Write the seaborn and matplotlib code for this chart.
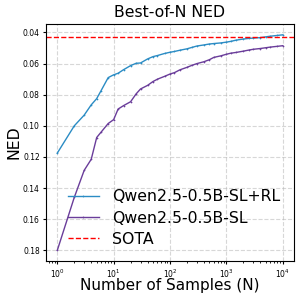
import pandas as pd
import seaborn as sns
import matplotlib.pyplot as plt

# Number of samples (N)
n_samples = [1, 2, 3, 4, 5, 6, 8, 10, 12, 15, 20, 25, 30, 40, 50, 60, 80, 100,
             120, 150, 200, 250, 300, 400, 500, 600, 800, 1000, 1200, 1500,
             2000, 2500, 3000, 4000, 5000, 6000, 8000, 10000]

# Best-of-N NED per model
ned_sl_rl = [0.1175, 0.100, 0.0931, 0.0865, 0.0825, 0.0773, 0.069, 0.0672,
             0.0662, 0.0639, 0.0613, 0.0598, 0.0596, 0.0570, 0.0555, 0.0548,
             0.0535, 0.0527, 0.0522, 0.0514, 0.0505, 0.0495, 0.0487, 0.0480,
             0.0474, 0.0471, 0.0467, 0.0462, 0.0457, 0.0449, 0.0442, 0.0438,
             0.0436, 0.0433, 0.0428, 0.0424, 0.0419, 0.0415]
ned_sl = [0.180, 0.146, 0.1286, 0.1215, 0.1075, 0.104, 0.0985, 0.0960,
          0.0892, 0.0870, 0.0845, 0.0795, 0.0763, 0.0740, 0.0715, 0.0700,
          0.0682, 0.0667, 0.0658, 0.0640, 0.0624, 0.0610, 0.0600, 0.0588,
          0.0575, 0.0560, 0.0550, 0.0540, 0.0533, 0.0528, 0.0520, 0.0513,
          0.0508, 0.0503, 0.0498, 0.0494, 0.0489, 0.0485]
sota = 0.0426

models = ["Qwen2.5-0.5B-SL+RL", "Qwen2.5-0.5B-SL"]
colors = ["#2b8cc4", "#6a3d9a"]

df = pd.DataFrame({
    "N": n_samples * 2,
    "NED": ned_sl_rl + ned_sl,
    "model": [models[0]] * len(n_samples) + [models[1]] * len(n_samples),
})

fig, ax = plt.subplots(figsize=(2.99, 2.97), dpi=100)
sns.lineplot(data=df, x="N", y="NED", hue="model", palette=colors,
             marker=".", markersize=2.5, markeredgewidth=0, linewidth=1.0, ax=ax)
ax.axhline(sota, color="red", linestyle="--", linewidth=1.0, label="SOTA")

ax.set_xscale("log")
ax.invert_yaxis()
ax.grid(True, linestyle="--", alpha=0.5)
ax.tick_params(labelsize=5.5, length=2.5, pad=2)
ax.tick_params(which="minor", length=1.5)
ax.set_title("Best-of-N NED", fontsize=11.3, pad=5)
ax.set_xlabel("Number of Samples (N)", fontsize=11, labelpad=-1)
ax.set_ylabel("NED", fontsize=11.3, labelpad=1)
ax.legend(fontsize=11.3, frameon=False, loc="lower right",
          bbox_to_anchor=(1.0, 0.0), labelspacing=0.4)

plt.subplots_adjust(left=0.154, right=0.983, top=0.919, bottom=0.121)
plt.savefig("out.png", dpi=100)
